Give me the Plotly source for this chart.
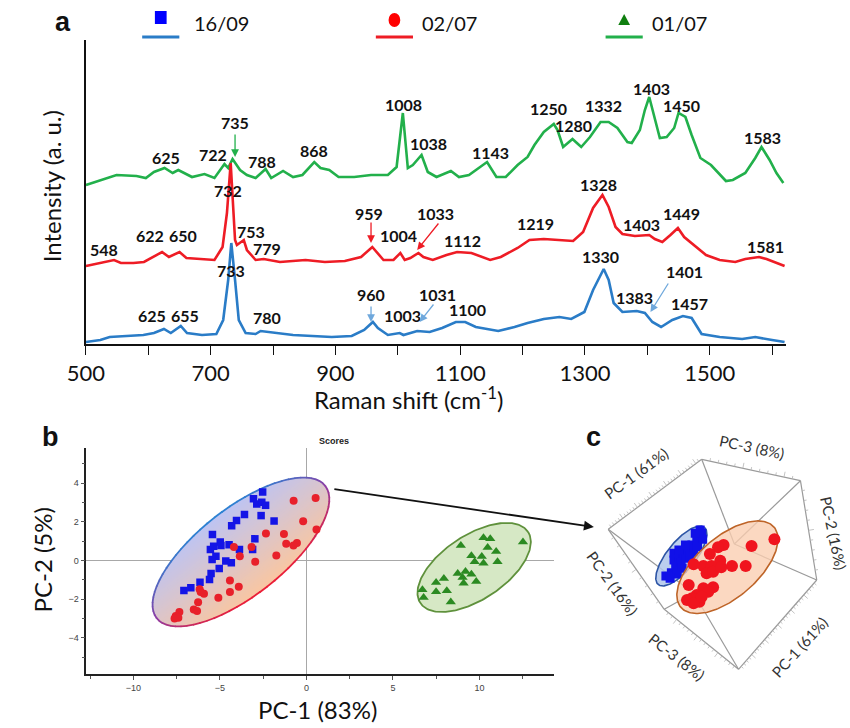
import numpy as np
import plotly.graph_objects as go

W, H = 850, 728

# ---------------- Panel a: Raman spectra ----------------
green_wn = [500,549,581,596,609,626,639,648,670,690,706,722,728,735,747,758,772,788,797,816,832,847,866,876,890,905,930,957,984,998,1008,1016,1024,1038,1048,1062,1085,1098,1114,1143,1158,1173,1192,1208,1219,1234,1250,1256,1265,1280,1287,1294,1308,1325,1338,1352,1368,1375,1388,1396,1403,1411,1420,1431,1443,1450,1461,1471,1485,1502,1526,1537,1557,1573,1583,1596,1607,1618]
green_int = [159,169,168,166,172,176,171,174,167,170,166,180,176,185,174,169,166,175,166,173,167,169,182,176,174,167,167,169,169,177,231,176,179,189,172,167,173,167,169,182,167,167,179,187,199,212,220,214,197,205,201,197,207,222,222,216,202,201,214,234,247,227,206,207,216,231,227,209,186,179,163,164,171,186,197,184,171,161]

red_wn = [500,523,545,556,576,593,607,622,633,650,661,679,706,719,726,732,739,742,753,758,772,785,811,852,883,915,941,959,966,977,993,1004,1011,1020,1033,1041,1056,1078,1095,1118,1148,1165,1192,1211,1234,1255,1281,1297,1313,1328,1338,1349,1360,1380,1403,1412,1424,1437,1449,1459,1474,1494,1516,1541,1557,1579,1591,1607,1620]
red_int = [78,81,84,81,81,82,87,92,87,92,86,85,84,97,131,181,104,99,104,94,84,85,82,84,82,83,87,97,92,84,84,91,84,86,91,87,84,89,92,91,84,87,96,104,105,104,103,112,136,149,137,117,110,108,109,105,102,109,116,107,99,89,84,82,85,87,85,81,78]

blue_wn = [500,523,538,565,592,609,625,636,652,662,686,709,720,728,733,739,745,756,772,780,805,832,863,894,926,946,960,968,984,1003,1009,1031,1051,1071,1093,1108,1125,1161,1187,1208,1234,1259,1278,1299,1313,1330,1338,1346,1360,1383,1396,1408,1422,1440,1457,1471,1487,1516,1552,1573,1600,1620]
blue_int = [2,4,7,8,9,11,15,11,18,11,9,10,24,64,101,64,24,11,10,13,11,9,8,7,8,14,22,16,9,11,9,13,12,16,22,22,17,13,17,21,25,27,25,32,54,75,64,41,32,33,31,22,17,24,28,26,10,7,5,7,4,2]

x_tickvals = [500,600,700,800,900,1000,1100,1200,1300,1400,1500,1600]
x_ticktext = ["500","","700","","900","","1100","","1300","","1500",""]

green_labels = ["625","722","735","788","868","1008","1038","1143","1250","1280","1332","1403","1450","1583"]
green_lab_x = [628,703,739,782,865,1009,1049,1148,1242,1281,1330,1407,1454,1584]
green_lab_y = [187,190,222,183,194,240,201,192,236,219,239,256,239,207]

red_labels = ["732","548","622","650","753","779","959","1004","1033","1112","1219","1328","1403","1449","1581"]
red_lab_x = [727,529,603,655,764,790,954,1001,1061,1103,1220,1322,1391,1455,1590]
red_lab_y = [154,95,109,109,113,96,131,109,131,104,121,160,120,131,98]

blue_labels = ["733","625","655","780","960","1003","1031","1100","1330","1383","1401","1457"]
blue_lab_x = [733,606,659,791,957,1007,1064,1111,1325,1380,1459,1467]
blue_lab_y = [74,29,29,27,50,29,50,35,88,47,73,41]

# arrows: tail x, tail y, head x, head y
green_arrows = [(739, 211, 739, 187)]
red_arrows = [(957, 123, 957, 101), (1067, 122, 1031, 94)]
blue_arrows = [(957, 39, 957, 22), (1059, 41, 1035, 22), (1435, 62, 1405, 32)]

series_names = ["16/09", "02/07", "01/07"]

# ---------------- Panel b: PCA scores ----------------
blue_b_x = [-2.53,-3.06,-2.87,-2.58,-2.36,-2.62,-1.87,-3.58,-4.04,-4.32,-2.98,-3.11,-5.43,-5.55,-5.36,-4.98,-4.94,-4.47,-3.87,-5.23,-5.45,-4.66,-4.34,-5.04,-5.51,-5.60,-6.15,-6.68,-7.08]
blue_b_y = [3.54,3.19,2.92,3.01,2.85,2.32,2.04,2.37,2.06,1.80,1.12,0.57,1.34,0.57,0.74,0.95,0.77,0.82,0.57,0.22,0.05,-0.03,-0.12,-0.41,-0.67,-0.98,-1.12,-1.41,-1.55]
red_b_x = [-0.74,0.53,-0.19,0.58,-2.34,-1.30,-1.17,-0.55,-0.75,-3.17,-4.19,-3.85,-2.96,-1.74,-4.42,-3.91,-4.42,-5.09,-6.17,-6.11,-5.92,-6.26,-6.51,-6.32,-7.34,-7.55,-7.40,-7.62]
red_b_y = [3.09,3.23,2.03,1.60,1.39,1.37,0.86,0.91,0.77,0.70,0.70,0.22,-0.07,0.26,-1.03,-1.36,-1.63,-1.92,-1.49,-1.62,-1.72,-2.15,-2.53,-2.61,-2.66,-2.87,-2.96,-2.99]
green_b_x = [10.23,10.62,12.51,8.92,10.47,10.96,9.53,10.13,9.72,10.23,11.04,9.19,8.74,9.02,9.53,9.08,9.81,7.94,7.49,6.70,7.49,8.11,6.77,8.34]
green_b_y = [1.17,1.12,0.95,0.77,0.67,0.46,0.24,0.21,-0.07,-0.14,-0.07,-0.57,-0.67,-0.88,-0.71,-1.17,-1.08,-0.93,-1.14,-1.51,-1.61,-1.56,-1.91,-2.14]

# ---------------- Panel c: 3D PCA projection ----------------
cube_u = {"A": 2.27, "B": 11.83, "C": 21.93, "D": 23.6, "E": 15.6, "F": 8.0, "G": 15.17, "H": 11.0}
cube_v = {"A": 17.07, "B": 24.07, "C": 21.93, "D": 12.0, "E": 3.07, "F": 9.07, "G": 15.6, "H": 10.7}
cube_edges = [("A","B"),("B","C"),("C","D"),("D","E"),("E","F"),("F","A"),
              ("G","B"),("G","C"),("G","D"),("H","A"),("H","F"),("H","E")]
edge_ticks = {("A","B"): 32, ("B","C"): 12, ("C","D"): 10, ("D","E"): 30, ("E","F"): 18, ("F","A"): 10}

blue_c_u = [8.17,8.73,9.17,9.0,9.5,9.73,10.0,10.4,10.27,10.83,11.0,11.33,11.6,11.83,11.93,11.4,10.67,9.83,9.33,8.6,11.17,11.67,9.0,9.5,10.17]
blue_c_v = [12.4,12.73,13.27,14.0,14.17,13.67,14.67,15.0,14.17,15.5,14.83,16.0,16.4,16.67,16.07,15.33,14.4,13.17,12.6,12.17,16.67,17.0,14.67,15.0,15.5]
red_c_u = [19.27,16.93,14.07,13.5,12.67,13.73,12.0,12.83,12.33,13.0,13.83,14.93,16.33,11.0,10.5,12.0,13.0,12.5,11.33,10.83,11.6,10.33,11.0,11.83]
red_c_v = [16.07,15.4,15.5,15.27,14.6,13.93,13.4,13.4,12.67,12.83,13.27,13.4,13.4,13.57,11.5,11.17,11.27,10.83,10.5,10.17,9.83,10.0,9.67,10.33]

# ---------------- layout geometry ----------------
XA_DOM = [68.5/W, 785/W]; YA_DOM = [1-344/H, 1-40/H]
XA_RANGE = [500, 1623]; YA_RANGE = [0, 304]
XB_DOM = [69/W, 547/W]; YB_DOM = [1-674/H, 1-448/H]
XB_RANGE = [-12.71, 14.29]; YB_RANGE = [-5.86, 5.81]
XC_DOM = [580/W, 840/W]; YC_DOM = [1-700/H, 1-440/H]
XC_RANGE = [0, 26]; YC_RANGE = [0, 26]

sxb = (XB_DOM[1]-XB_DOM[0])*W/(XB_RANGE[1]-XB_RANGE[0])
syb = (YB_DOM[1]-YB_DOM[0])*H/(YB_RANGE[1]-YB_RANGE[0])

FONT = "Lato, 'Open Sans', sans-serif"
C_GREEN = "#22B04B"; C_RED = "#EE1C25"; C_BLUE = "#2A7CC7"

fig = go.Figure()

def add(tr, ax=""):
    tr.update(xaxis="x"+ax, yaxis="y"+ax, showlegend=False, hoverinfo="skip")
    fig.add_trace(tr)

# spectra
add(go.Scatter(x=green_wn, y=green_int, mode="lines", line=dict(color=C_GREEN, width=2.6)))
add(go.Scatter(x=red_wn, y=red_int, mode="lines", line=dict(color=C_RED, width=2.6)))
add(go.Scatter(x=blue_wn, y=blue_int, mode="lines", line=dict(color=C_BLUE, width=2.6)))

annotations = []
def lab(texts, xs, ys):
    for t, x, y in zip(texts, xs, ys):
        annotations.append(dict(x=x, y=y, xref="x", yref="y", text="<b>"+t+"</b>", showarrow=False,
                                xanchor="center", yanchor="middle",
                                font=dict(family=FONT, size=16, color="#111111")))
lab(green_labels, green_lab_x, green_lab_y)
lab(red_labels, red_lab_x, red_lab_y)
lab(blue_labels, blue_lab_x, blue_lab_y)

def arrows(lst, color):
    for xt, yt, xh, yh in lst:
        annotations.append(dict(x=xh, y=yh, ax=xt, ay=yt, xref="x", yref="y", axref="x", ayref="y",
                                text="", showarrow=True, arrowhead=2, arrowsize=1.2, arrowwidth=1.3,
                                arrowcolor=color))
arrows(green_arrows, C_GREEN)
arrows(red_arrows, C_RED)
arrows(blue_arrows, "#6FA8DC")

# ---------------- ellipses ----------------
def ell(cx, cy, a, b, th, sx, sy, phis):
    th = np.radians(th)
    X = a*np.cos(phis)*np.cos(th) - b*np.sin(phis)*np.sin(th)
    Y = a*np.cos(phis)*np.sin(th) + b*np.sin(phis)*np.cos(th)
    return cx + X/sx, cy + Y/sy

def lerp(c1, c2, f):
    f = max(0.0, min(1.0, f))
    return tuple(int(round(c1[i] + (c2[i]-c1[i])*f)) for i in range(3))

# gradient ellipse (panel b, groups 16/09 + 02/07)
E1 = dict(cx=-3.785, cy=0.44, a=108.7, b=43.8, th=37.3)
fill_lo = (250, 198, 160); fill_hi = (190, 196, 242)
NB = 36
for i in range(NB):
    s = -1 + 2*i/NB
    a0 = np.arcsin(max(-1.0, min(1.0, s)))
    ph = np.linspace(a0, np.pi - a0, 200)
    x, y = ell(E1["cx"], E1["cy"], E1["a"], E1["b"], E1["th"], sxb, syb, ph)
    col = lerp(fill_lo, fill_hi, (s+1)/2 + 1/NB)
    add(go.Scatter(x=list(x), y=list(y), mode="lines", fill="toself", line=dict(width=0),
                   fillcolor="rgb(%d,%d,%d)" % col), "2")
NS = 72
b_hi = (45, 130, 210); b_mid = (140, 60, 165); b_lo = (235, 30, 55)
for i in range(NS):
    ph = np.linspace(2*np.pi*i/NS, 2*np.pi*(i+1)/NS + 0.01, 6)
    s = np.sin(np.mean(ph))
    col = lerp(b_mid, b_hi, s) if s >= 0 else lerp(b_mid, b_lo, -s)
    x, y = ell(E1["cx"], E1["cy"], E1["a"], E1["b"], E1["th"], sxb, syb, ph)
    add(go.Scatter(x=list(x), y=list(y), mode="lines", line=dict(color="rgb(%d,%d,%d)" % col, width=1.8)), "2")

# green ellipse
E2 = dict(cx=9.69, cy=-0.356, a=65.6, b=32.3, th=32.5)
ph = np.linspace(0, 2*np.pi, 200)
x, y = ell(E2["cx"], E2["cy"], E2["a"], E2["b"], E2["th"], sxb, syb, ph)
add(go.Scatter(x=list(x), y=list(y), mode="lines", fill="toself", fillcolor="rgb(214,232,197)",
               line=dict(color="rgb(95,145,60)", width=1.8)), "2")

add(go.Scatter(x=blue_b_x, y=blue_b_y, mode="markers", marker=dict(symbol="square", size=7.5, color="#1414E6")), "2")
add(go.Scatter(x=red_b_x, y=red_b_y, mode="markers", marker=dict(symbol="circle", size=8, color="#E8202A")), "2")
add(go.Scatter(x=green_b_x, y=green_b_y, mode="markers", marker=dict(symbol="triangle-up", size=9, color="#2B8A22")), "2")

# ---------------- panel c drawing ----------------
lx, ly = [], []
for p, q in cube_edges:
    lx += [cube_u[p], cube_u[q], None]; ly += [cube_v[p], cube_v[q], None]
add(go.Scatter(x=lx, y=ly, mode="lines", line=dict(color="#9a9a9a", width=1.2)), "3")
cu = np.mean([cube_u[k] for k in "ABCDEF"]); cv = np.mean([cube_v[k] for k in "ABCDEF"])
tx, ty = [], []
for (p, q), n in edge_ticks.items():
    p0 = np.array([cube_u[p], cube_v[p]]); p1 = np.array([cube_u[q], cube_v[q]])
    d = p1 - p0; nrm = np.array([-d[1], d[0]]) / np.linalg.norm(d)
    mid = (p0 + p1)/2
    if np.dot(nrm, mid - np.array([cu, cv])) < 0:
        nrm = -nrm
    for k in range(1, n):
        pt = p0 + d*k/n
        L = 0.55 if k % 5 == 0 else 0.3
        tx += [pt[0], pt[0]+nrm[0]*L, None]; ty += [pt[1], pt[1]+nrm[1]*L, None]
add(go.Scatter(x=tx, y=ty, mode="lines", line=dict(color="#b5b5b5", width=0.8)), "3")

E3 = dict(cx=9.75, cy=14.4, a=3.71, b=1.44, th=50.3)
x, y = ell(E3["cx"], E3["cy"], E3["a"], E3["b"], E3["th"], 1, 1, ph)
add(go.Scatter(x=list(x), y=list(y), mode="lines", fill="toself", fillcolor="rgba(175,198,235,0.85)",
               line=dict(color="rgb(45,85,165)", width=1.6)), "3")
add(go.Scatter(x=blue_c_u, y=blue_c_v, mode="markers", marker=dict(symbol="square", size=9, color="#1010E8")), "3")
E4 = dict(cx=14.46, cy=13.28, a=6.23, b=3.06, th=39.8)
x, y = ell(E4["cx"], E4["cy"], E4["a"], E4["b"], E4["th"], 1, 1, ph)
add(go.Scatter(x=list(x), y=list(y), mode="lines", fill="toself", fillcolor="rgba(250,205,175,0.78)",
               line=dict(color="rgb(190,100,40)", width=1.6)), "3")
add(go.Scatter(x=red_c_u, y=red_c_v, mode="markers", marker=dict(symbol="circle", size=12, color="#F0141E")), "3")

c_labels = [("PC-1 (61%)", 5.17, 22.67, -36), ("PC-3 (8%)", 17.0, 25.33, 12), ("PC-2 (16%)", 25.3, 16.67, 78),
            ("PC-2 (16%)", 2.67, 11.67, 54), ("PC-3 (8%)", 9.33, 4.33, 38), ("PC-1 (61%)", 21.83, 5.33, -48)]
for t, u, v, ang in c_labels:
    annotations.append(dict(x=u, y=v, xref="x3", yref="y3", text=t, textangle=ang, showarrow=False,
                            xanchor="center", yanchor="middle",
                            font=dict(family=FONT, size=15, color="#333333")))

# ---------------- legend, titles, panel letters ----------------
shapes = []
def P(xp, yp):
    return xp/W, 1-yp/H
leg = [(145, 18, 177, C_BLUE, "square", "#0000FF"), (384, 20, 410, C_RED, "circle", "#FF0000"),
       (619, 20, 645, C_GREEN, "triangle", "#0F7F0F")]
for (mx, my, tx0, lc, sym, mc), name in zip(leg, series_names):
    x0, y0 = P(mx-19, 37); x1, _ = P(mx+19, 37)
    shapes.append(dict(type="line", xref="paper", yref="paper", x0=x0, x1=x1, y0=y0, y1=y0,
                       line=dict(color=lc, width=3)))
    if sym == "square":
        a0, b0 = P(mx-6, my-7); a1, b1 = P(mx+6, my+6)
        shapes.append(dict(type="rect", xref="paper", yref="paper", x0=a0, x1=a1, y0=b1, y1=b0,
                           fillcolor=mc, line=dict(width=0)))
    elif sym == "circle":
        a0, b0 = P(mx-6, my-7); a1, b1 = P(mx+6, my+7)
        shapes.append(dict(type="circle", xref="paper", yref="paper", x0=a0, x1=a1, y0=b1, y1=b0,
                           fillcolor=mc, line=dict(width=0)))
    else:
        pa = P(mx-6, my+5); pb = P(mx+6, my+5); pc = P(mx, my-6)
        shapes.append(dict(type="path", xref="paper", yref="paper",
                           path="M %f %f L %f %f L %f %f Z" % (pa[0], pa[1], pb[0], pb[1], pc[0], pc[1]),
                           fillcolor=mc, line=dict(width=0)))
    tx_, ty_ = P(tx0, 23)
    annotations.append(dict(x=tx_, y=ty_, xref="paper", yref="paper", text=name, showarrow=False,
                            xanchor="left", yanchor="middle", font=dict(family=FONT, size=20, color="#111111")))

def ptext(t, xp, yp, size, ang=0, bold=False, fam=FONT, color="#111111"):
    xx, yy = P(xp, yp)
    annotations.append(dict(x=xx, y=yy, xref="paper", yref="paper", text=("<b>%s</b>" % t) if bold else t,
                            showarrow=False, textangle=ang, xanchor="center", yanchor="middle",
                            font=dict(family=fam, size=size, color=color)))

ARIAL = "'Liberation Sans', Arial, sans-serif"
ptext("a", 45, 22, 27, bold=True, fam=ARIAL)
ptext("b", 32, 437, 27, bold=True, fam=ARIAL)
ptext("c", 588, 437, 27, bold=True, fam=ARIAL)
ptext("Intensity (a. u.)", 33, 186, 24, ang=-90)
ptext("Raman shift (cm<sup>-1</sup>)", 398, 398, 24)
ptext("PC-2 (5%)", 24, 560, 24, ang=-90)
ptext("PC-1 (83%)", 305, 709, 24)
ptext("<b>Scores</b>", 322, 441, 9, fam=ARIAL, color="#222222")

# arrow from b to c (head in paper coords, tail as pixel offset)
hx, hy = P(588, 527)
annotations.append(dict(x=hx, y=hy, ax=327-588, ay=489-527, xref="paper", yref="paper", axref="pixel", ayref="pixel",
                        text="", showarrow=True, arrowhead=2, arrowsize=1.1, arrowwidth=1.8, arrowcolor="#111111"))

fig.update_layout(
    width=W, height=H, margin=dict(l=0, r=0, t=0, b=0),
    paper_bgcolor="white", plot_bgcolor="white",
    xaxis=dict(domain=XA_DOM, range=XA_RANGE, anchor="y", showgrid=False, zeroline=False,
               showline=True, linecolor="#111111", linewidth=1.5, ticks="outside", ticklen=9,
               tickwidth=1.3, tickcolor="#111111", tickvals=x_tickvals, ticktext=x_ticktext,
               tickfont=dict(family=FONT, size=22, color="#111111")),
    yaxis=dict(domain=YA_DOM, range=YA_RANGE, anchor="x", showgrid=False, zeroline=False,
               showline=True, linecolor="#111111", linewidth=1.5, showticklabels=False, ticks=""),
    xaxis2=dict(domain=XB_DOM, range=XB_RANGE, anchor="y2", showgrid=False, zeroline=True,
                zerolinecolor="#a8a8a8", zerolinewidth=1, showline=True, linecolor="#222222", linewidth=1.6,
                ticks="outside", ticklen=4, tickcolor="#555555", dtick=5, tick0=0,
                minor=dict(dtick=2.5, ticks="outside", ticklen=3, tickcolor="#555555"),
                tickfont=dict(family=ARIAL, size=9, color="#444444")),
    yaxis2=dict(domain=YB_DOM, range=YB_RANGE, anchor="x2", showgrid=False, zeroline=True,
                zerolinecolor="#a8a8a8", zerolinewidth=1, showline=True, linecolor="#222222", linewidth=1.6,
                ticks="outside", ticklen=4, tickcolor="#555555", dtick=2, tick0=0,
                minor=dict(dtick=1, ticks="outside", ticklen=3, tickcolor="#555555"),
                tickfont=dict(family=ARIAL, size=9, color="#444444")),
    xaxis3=dict(domain=XC_DOM, range=XC_RANGE, anchor="y3", visible=False),
    yaxis3=dict(domain=YC_DOM, range=YC_RANGE, anchor="x3", visible=False),
    annotations=annotations, shapes=shapes,
)

fig.write_html("out.html")
